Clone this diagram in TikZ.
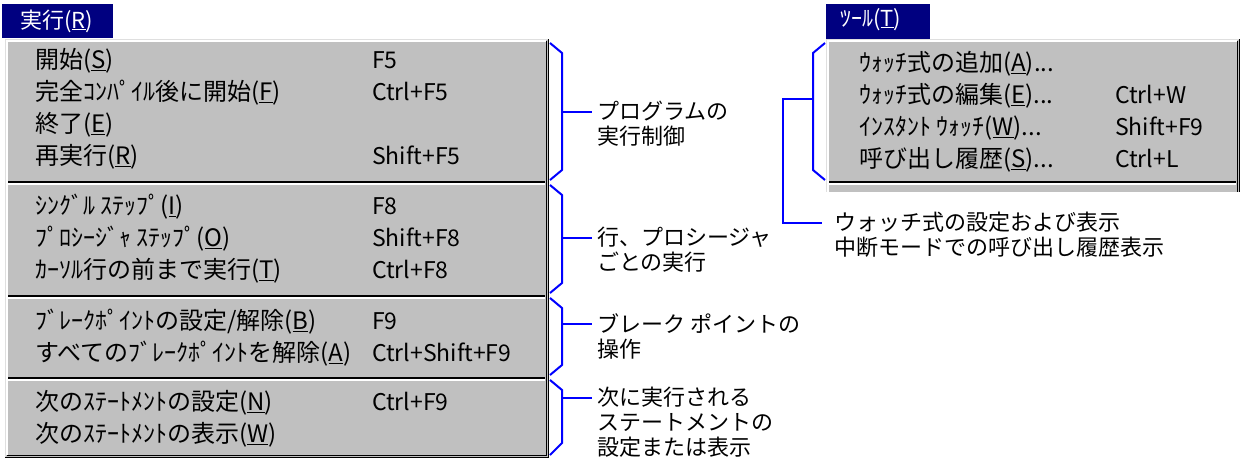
\documentclass[tikz,border=0pt]{standalone}
\usepackage{fontspec}
\setmainfont{Noto Sans CJK JP}
\definecolor{navy}{HTML}{000080}
\definecolor{panel}{HTML}{C0C0C0}
\definecolor{shade}{HTML}{808080}
\definecolor{light}{HTML}{DFDFDF}
\definecolor{brk}{HTML}{0000FF}
\newcommand\hk[1]{\underline{#1}}
\begin{document}
\begin{tikzpicture}[x=1pt,y=-1pt,
  key/.style={anchor=west, inner sep=0pt, font=\fontsize{23}{25}\selectfont, text height=20pt, text depth=3pt},
  item/.style={anchor=west, inner sep=0pt, font=\fontsize{24}{26}\selectfont, text height=20.5pt, text depth=3pt},
  title/.style={anchor=west, inner sep=0pt, text=white, font=\fontsize{22}{25}\selectfont, text height=19pt, text depth=3pt},
  label/.style={anchor=north west, inner sep=0pt, align=left, font=\fontsize{22}{25}\selectfont},
  bracket/.style={draw=brk, line width=2pt},
  sep/.style={line width=1.5pt}
]
\useasboundingbox (0,0) rectangle (1241,459);

% ---------- left menu ----------
\fill[navy] (2,4) rectangle (113,38);
\node[title] (t1) at (20,20) {実行(\hk{R})};

\fill[panel] (5,39) rectangle (549,458);
\draw[light, line width=1pt] (5,39.5) -- (548,39.5);
\draw[light, line width=1pt] (5.5,39) -- (5.5,457);
\draw[white, line width=1.5pt] (6,41) -- (546,41);
\draw[white, line width=1.5pt] (7,40) -- (7,455);
\draw[shade, line width=1.5pt] (546.5,41) -- (546.5,455.5);
\draw[shade, line width=1.5pt] (7,455.5) -- (547,455.5);
\draw[black, line width=1.5pt] (548.5,39) -- (548.5,458);
\draw[black, line width=1.5pt] (5,457.5) -- (549,457.5);

\foreach \y in {182,296,378}{
  \draw[shade, sep] (8,\y) -- (545,\y);
  \draw[white, sep] (8,\y+1.8) -- (545,\y+1.8);
}

\node[item] (a1) at (35,60) {開始(\hk{S})};
\node[key] (a1k) at (372,60) {F5};
\node[item] (a2) at (35,92) {完全ｺﾝﾊﾟｲﾙ後に開始(\hk{F})};
\node[key] (a2k) at (372,92) {Ctrl+F5};
\node[item] (a3) at (35,124) {終了(\hk{E})};
\node[item] (a4) at (35,156) {再実行(\hk{R})};
\node[key] (a4k) at (372,156) {Shift+F5};

\node[item] (b1) at (35,206) {ｼﾝｸﾞﾙ ｽﾃｯﾌﾟ(\hk{I})};
\node[key] (b1k) at (372,206) {F8};
\node[item] (b2) at (35,238) {ﾌﾟﾛｼｰｼﾞｬ ｽﾃｯﾌﾟ(\hk{O})};
\node[key] (b2k) at (372,238) {Shift+F8};
\node[item] (b3) at (35,270) {ｶｰｿﾙ行の前まで実行(\hk{T})};
\node[key] (b3k) at (372,270) {Ctrl+F8};

\node[item] (c1) at (35,321) {ﾌﾞﾚｰｸﾎﾟｲﾝﾄの設定/解除(\hk{B})};
\node[key] (c1k) at (372,321) {F9};
\node[item] (c2) at (35,353) {すべてのﾌﾞﾚｰｸﾎﾟｲﾝﾄを解除(\hk{A})};
\node[key] (c2k) at (372,353) {Ctrl+Shift+F9};

\node[item] (d1) at (35,402) {次のｽﾃｰﾄﾒﾝﾄの設定(\hk{N})};
\node[key] (d1k) at (372,402) {Ctrl+F9};
\node[item] (d2) at (35,434) {次のｽﾃｰﾄﾒﾝﾄの表示(\hk{W})};

% ---------- left brackets & labels ----------
\node[label] (L1) at (597,101) {プログラムの\\実行制御};
\node[label] (L2) at (597,227) {行、プロシージャ\\ごとの実行};
\node[label] (L3) at (597,313) {ブレーク ポイントの\\操作};
\node[label] (L4) at (597,387) {次に実行される\\ステートメントの\\設定または表示};

\coordinate (k1) at (592,112);
\coordinate (k2) at (592,238);
\coordinate (k3) at (592,324);
\coordinate (k4) at (592,398);

\draw[bracket] (550,43) -- (562,53) -- (562,170) -- (550,180);
\draw[bracket] (562,112) -- (k1);
\draw[bracket] (550,185) -- (562,195) -- (562,283) -- (550,293);
\draw[bracket] (562,238) -- (k2);
\draw[bracket] (550,298) -- (562,308) -- (562,365) -- (550,375);
\draw[bracket] (562,324) -- (k3);
\draw[bracket] (550,380) -- (562,390) -- (562,443) -- (550,455);
\draw[bracket] (562,398) -- (k4);

% ---------- right menu ----------
\fill[navy] (826,4) rectangle (930,39);
\node[title] (t2) at (840,18) {ﾂｰﾙ(\hk{T})};

\fill[panel] (826,39) rectangle (1240,192);
\draw[light, line width=1pt] (826,39.5) -- (1239,39.5);
\draw[light, line width=1pt] (826.5,39) -- (826.5,192);
\draw[white, line width=1.5pt] (827,41) -- (1237,41);
\draw[white, line width=1.5pt] (828,40) -- (828,192);
\draw[shade, line width=1.5pt] (1237.5,41) -- (1237.5,192);
\draw[black, line width=1.5pt] (1239.5,39) -- (1239.5,192);
\draw[shade, sep] (829,182) -- (1236,182);
\draw[white, sep] (829,183.8) -- (1236,183.8);

\node[item] (r1) at (859,63) {ｳｫｯﾁ式の追加(\hk{A})...};
\node[item] (r2) at (859,95) {ｳｫｯﾁ式の編集(\hk{E})...};
\node[key] (r2k) at (1115,95) {Ctrl+W};
\node[item] (r3) at (859,127) {ｲﾝｽﾀﾝﾄ ｳｫｯﾁ(\hk{W})...};
\node[key] (r3k) at (1115,127) {Shift+F9};
\node[item] (r4) at (859,159) {呼び出し履歴(\hk{S})...};
\node[key] (r4k) at (1115,159) {Ctrl+L};

\node[label] (R1) at (834,212) {ウォッチ式の設定および表示\\中断モードでの呼び出し履歴表示};
\coordinate (kr) at (822,223);

\draw[bracket] (825,43) -- (813,53) -- (813,170) -- (825,180);
\draw[bracket] (813,99) -- (783,99) -- (783,223) -- (kr);
\end{tikzpicture}
\end{document}
